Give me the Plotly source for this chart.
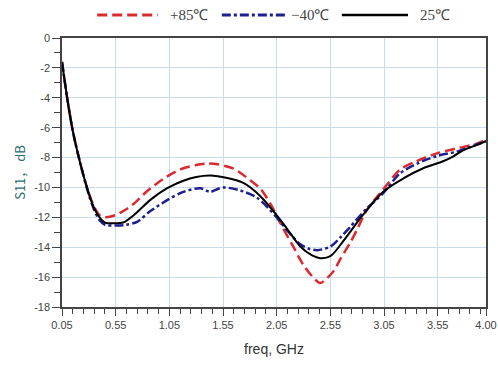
import plotly.graph_objects as go

# +85℃
f_hot = [0.05, 0.10, 0.15, 0.20, 0.25, 0.30, 0.35, 0.40, 0.45, 0.55, 0.70, 0.85, 1.00, 1.15, 1.30, 1.40, 1.50,
         1.65, 1.80, 1.90, 2.00, 2.05, 2.10, 2.20, 2.30, 2.40, 2.455, 2.50, 2.58, 2.65, 2.735, 2.80, 2.89, 3.04,
         3.20, 3.35, 3.55, 3.75, 3.90, 4.00]
s_hot = [-1.6, -4.1, -6.2, -7.8, -9.2, -10.4, -11.3, -11.85, -12.0, -11.85, -11.2, -10.2, -9.4, -8.8, -8.5, -8.4, -8.45,
         -8.75, -9.5, -10.1, -11.2, -11.9, -12.6, -13.9, -15.2, -16.1, -16.4, -16.2, -15.6, -14.7, -13.7, -12.8, -11.5, -10.15,
         -8.8, -8.25, -7.7, -7.35, -7.1, -6.8]

# -40℃
f_cold = [0.05, 0.10, 0.15, 0.20, 0.25, 0.30, 0.35, 0.40, 0.45, 0.55, 0.65, 0.75, 0.87, 1.03, 1.18, 1.34, 1.43,
          1.50, 1.56, 1.71, 1.87, 2.05, 2.15, 2.27, 2.35, 2.43, 2.55, 2.65, 2.74, 2.89, 3.04, 3.20, 3.36, 3.54,
          3.73, 3.85, 4.00]
s_cold = [-1.6, -4.1, -6.2, -7.8, -9.2, -10.5, -11.5, -12.2, -12.5, -12.55, -12.5, -12.3, -11.6, -10.85, -10.3, -10.05, -10.3,
          -10.1, -10.0, -10.2, -10.7, -12.0, -12.9, -13.8, -14.1, -14.2, -13.95, -13.3, -12.6, -11.4, -10.4, -9.05, -8.4, -7.9,
          -7.6, -7.3, -6.9]

# 25℃
f_room = [0.05, 0.10, 0.15, 0.20, 0.25, 0.30, 0.35, 0.40, 0.45, 0.55, 0.62, 0.72, 0.87, 1.03, 1.18, 1.30, 1.43,
          1.59, 1.74, 1.90, 2.05, 2.15, 2.27, 2.38, 2.455, 2.55, 2.67, 2.83, 3.04, 3.23, 3.42, 3.60, 3.70, 3.79,
          3.90, 4.00]
s_room = [-1.6, -4.1, -6.2, -7.8, -9.2, -10.4, -11.4, -12.0, -12.35, -12.4, -12.35, -11.85, -10.85, -10.05, -9.55, -9.3, -9.2,
          -9.37, -9.7, -10.6, -11.85, -12.8, -13.95, -14.55, -14.73, -14.6, -13.6, -12.05, -10.3, -9.4, -8.7, -8.25, -7.9, -7.5,
          -7.2, -6.9]

series_names = ["+85℃", "−40℃", "25℃"]
series_colors = ["#d92a2e", "#1d1f8f", "#000000"]
series_dash = ["10px,5px", "9px,3px,3px,3px", "solid"]
series_width = [2.5, 2.5, 2]

x_ticks = [0.05, 0.55, 1.05, 1.55, 2.05, 2.55, 3.05, 3.55, 4.00]
x_labels = ["0.05", "0.55", "1.05", "1.55", "2.05", "2.55", "3.05", "3.55", "4.00"]
y_ticks = [0, -2, -4, -6, -8, -10, -12, -14, -16, -18]
y_labels = ["0", "-2", "-4", "-6", "-8", "-10", "-12", "-14", "-16", "-18"]

fig = go.Figure()
for fx, sy, nm, col, dsh, w in zip([f_hot, f_cold, f_room], [s_hot, s_cold, s_room],
                                   series_names, series_colors, series_dash, series_width):
    fig.add_trace(go.Scatter(x=fx, y=sy, mode="lines", name=nm, showlegend=False,
                             line=dict(color=col, width=w, dash=dsh, shape="spline", smoothing=0.8)))

# legend drawn above the plot (long line samples like the reference)
leg_line_x = [(0.083, 0.226), (0.377, 0.526), (0.660, 0.816)]
leg_text_x = [0.250, 0.536, 0.840]
leg_y = 1.0855
for (x0, x1), tx, nm, col, dsh, w in zip(leg_line_x, leg_text_x, series_names, series_colors, series_dash, series_width):
    fig.add_shape(type="line", xref="paper", yref="paper", x0=x0, x1=x1, y0=leg_y, y1=leg_y,
                  line=dict(color=col, width=w + 0.5, dash=dsh))
    fig.add_annotation(xref="paper", yref="paper", x=tx, y=leg_y, text=nm, showarrow=False,
                       xanchor="left", yanchor="middle",
                       font=dict(family="Liberation Serif, serif", size=15, color="#444444"))

fig.update_layout(
    width=498, height=367,
    margin=dict(l=62, r=12, t=38, b=60, autoexpand=False),
    paper_bgcolor="white", plot_bgcolor="white",
    font=dict(family="Liberation Sans, Arial", size=11, color="#333333"),
    showlegend=False,
    xaxis=dict(range=[0.05, 4.00], tickvals=x_ticks, ticktext=x_labels, automargin=False,
               showgrid=True, gridcolor="#c9dbec", gridwidth=1,
               showline=True, linecolor="#444444", linewidth=1.5, mirror=True,
               ticks="outside", ticklen=7, tickcolor="#444444",
               minor=dict(dtick=0.1, tick0=0.05, ticks="outside", ticklen=5, tickcolor="#444444", showgrid=False),
               tickfont=dict(size=11, color="#444444"),
               title=dict(text="freq, GHz", font=dict(size=14, color="#333333"), standoff=14),
               zeroline=False),
    yaxis=dict(range=[-18, 0], tickvals=y_ticks, ticktext=y_labels, automargin=False,
               showgrid=True, gridcolor="#c9dbec", gridwidth=1,
               showline=True, linecolor="#444444", linewidth=1.5, mirror=True,
               ticks="outside", ticklen=8, tickcolor="#444444",
               minor=dict(dtick=1, ticks="outside", ticklen=6, tickcolor="#444444", showgrid=False),
               tickfont=dict(size=11, color="#444444"),
               title=dict(text="S11， dB", font=dict(family="Noto Sans CJK SC, Liberation Serif", size=13, color="#2e6d6d"), standoff=6),
               zeroline=False),
)

fig.write_html("out.html")
